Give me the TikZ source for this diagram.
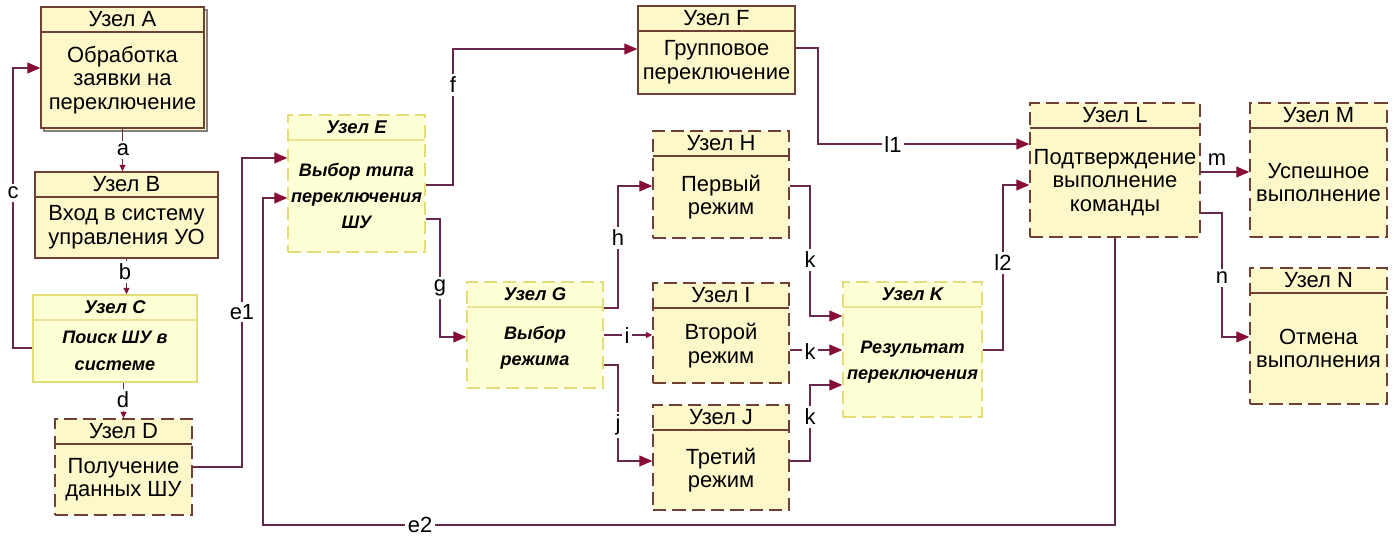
\documentclass[tikz,border=0pt]{standalone}
\usepackage{fontspec}
\setmainfont{Liberation Sans}
\usepackage{tikz}
\usetikzlibrary{arrows.meta,shadows}

\definecolor{brd}{RGB}{112,64,52}
\definecolor{cream}{RGB}{253,248,202}
\definecolor{ybrd}{RGB}{228,220,120}
\definecolor{yfill}{RGB}{255,255,214}
\definecolor{wire}{RGB}{105,40,75}
\definecolor{tipc}{RGB}{135,15,55}

\begin{document}
\begin{tikzpicture}[
      x=0.02cm, y=-0.02cm,
      font=\fontsize{12.5}{13.5}\selectfont,
      sbox/.style={draw=brd, fill=cream, line width=0.8pt, inner sep=0pt,
                   path picture={\draw[solid, brd, line width=0.8pt]
                     ([yshift=-0.5cm]path picture bounding box.north west) --
                     ([yshift=-0.5cm]path picture bounding box.north east);}},
      dbox/.style={sbox, dash pattern=on 7.5pt off 3.5pt},
      ybox/.style={draw=ybrd, fill=yfill, line width=0.8pt, inner sep=0pt,
                   dash pattern=on 7.5pt off 3.5pt,
                   path picture={\draw[solid, ybrd!80, line width=0.6pt]
                     ([yshift=-0.5cm]path picture bounding box.north west) --
                     ([yshift=-0.5cm]path picture bounding box.north east);}},
      hdr/.style={inner sep=0pt},
      yhdr/.style={inner sep=0pt, font=\fontsize{10.5}{13}\selectfont\bfseries\itshape},
      txt/.style={align=center, inner sep=0pt},
      ytxt/.style={align=center, inner sep=0pt,
                   font=\fontsize{10.3}{15}\selectfont\bfseries\itshape},
      flow/.style={draw=wire, line width=0.6pt,
                   -{Triangle[length=2.6mm, width=2.2mm, color=tipc]}},
      flowsm/.style={draw=wire, line width=0.6pt,
                   -{Triangle[length=1.3mm, width=1.2mm, color=tipc]}},
      lbl/.style={fill=white, inner sep=1.5pt}
    ]
    \useasboundingbox (0,0) rectangle (1394,537);

    % --- Nodes ---------------------------------------------------------------
    \node[sbox, minimum width=3.26cm, minimum height=2.42cm,
          copy shadow={shadow xshift=0.06cm, shadow yshift=-0.06cm,
                       draw=gray, fill=cream}] (A) at (122.5,67.5) {};
    \node[hdr] (Ah) at ([yshift=-0.25cm]A.north) {Узел A};
    \node[txt] (At) at ([yshift=-0.25cm]A.center) {Обработка\\заявки на\\переключение};

    \node[sbox, minimum width=3.66cm, minimum height=1.72cm] (B) at (126.5,215) {};
    \node[hdr] (Bh) at ([yshift=-0.25cm]B.north) {Узел B};
    \node[txt] (Bt) at ([yshift=-0.25cm]B.center) {Вход в систему\\управления УО};

    \node[ybox, solid, minimum width=3.28cm, minimum height=1.74cm] (C) at (115,338.5) {};
    \node[yhdr] (Ch) at ([yshift=-0.25cm]C.north) {Узел C};
    \node[ytxt] (Ct) at ([yshift=-0.25cm]C.center) {Поиск ШУ в\\системе};

    \node[dbox, minimum width=2.74cm, minimum height=1.92cm] (D) at (123.5,467) {};
    \node[hdr] (Dh) at ([yshift=-0.25cm]D.north) {Узел D};
    \node[txt] (Dt) at ([yshift=-0.25cm]D.center) {Получение\\данных ШУ};

    \node[ybox, minimum width=2.74cm, minimum height=2.74cm] (E) at (356.5,183.5) {};
    \node[yhdr] (Eh) at ([yshift=-0.25cm]E.north) {Узел E};
    \node[ytxt] (Et) at ([yshift=-0.25cm]E.center) {Выбор типа\\переключения\\ШУ};

    \node[sbox, minimum width=3.14cm, minimum height=1.76cm] (F) at (716.5,50) {};
    \node[hdr] (Fh) at ([yshift=-0.25cm]F.north) {Узел F};
    \node[txt] (Ft) at ([yshift=-0.25cm]F.center) {Групповое\\переключение};

    \node[ybox, minimum width=2.72cm, minimum height=2.12cm] (G) at (535,335) {};
    \node[yhdr] (Gh) at ([yshift=-0.25cm]G.north) {Узел G};
    \node[ytxt] (Gt) at ([yshift=-0.25cm]G.center) {Выбор\\режима};

    \node[dbox, minimum width=2.72cm, minimum height=2.14cm] (H) at (721,184.5) {};
    \node[hdr] (Hh) at ([yshift=-0.25cm]H.north) {Узел H};
    \node[txt] (Ht) at ([yshift=-0.25cm]H.center) {Первый\\режим};

    \node[dbox, minimum width=2.72cm, minimum height=2.0cm] (I) at (721,333) {};
    \node[hdr] (Ih) at ([yshift=-0.25cm]I.north) {Узел I};
    \node[txt] (It) at ([yshift=-0.25cm]I.center) {Второй\\режим};

    \node[dbox, minimum width=2.72cm, minimum height=2.1cm] (J) at (721,457.5) {};
    \node[hdr] (Jh) at ([yshift=-0.25cm]J.north) {Узел J};
    \node[txt] (Jt) at ([yshift=-0.25cm]J.center) {Третий\\режим};

    \node[ybox, minimum width=2.78cm, minimum height=2.7cm] (K) at (912.5,349.5) {};
    \node[yhdr] (Kh) at ([yshift=-0.25cm]K.north) {Узел K};
    \node[ytxt] (Kt) at ([yshift=-0.25cm]K.center) {Результат\\переключения};

    \node[dbox, minimum width=3.4cm, minimum height=2.68cm] (L) at (1115,170) {};
    \node[hdr] (Lh) at ([yshift=-0.25cm]L.north) {Узел L};
    \node[txt] (Lt) at ([yshift=-0.25cm]L.center) {Подтверждение\\выполнение\\команды};

    \node[dbox, minimum width=2.74cm, minimum height=2.68cm] (M) at (1318.5,170) {};
    \node[hdr] (Mh) at ([yshift=-0.25cm]M.north) {Узел M};
    \node[txt] (Mt) at ([yshift=-0.25cm]M.center) {Успешное\\выполнение};

    \node[dbox, minimum width=2.74cm, minimum height=2.72cm] (N) at (1318.5,336) {};
    \node[hdr] (Nh) at ([yshift=-0.25cm]N.north) {Узел N};
    \node[txt] (Nt) at ([yshift=-0.25cm]N.center) {Отмена\\выполнения};

    % --- Connectors ----------------------------------------------------------
    \draw[flowsm] (A.south) -- (A.south |- B.north);
    \draw[flowsm] (B.south) -- (B.south |- C.north);
    \draw[flow] (C.west |- 0,348) -- (13,348) |- (A.west |- 0,68);
    \draw[flowsm] (D.north |- C.south) -- (D.north);
    \draw[flow] (D.east) -- (242,467) |- (E.west |- 0,158);
    \draw[flow] (L.south) -- (1115,525) -- (263,525) |- (E.west |- 0,198);
    \draw[flow] (E.east |- 0,185) -- (453,185) |- (F.west |- 0,49);
    \draw[flow] (E.east |- 0,219) -- (440,219) |- (G.west |- 0,337);
    \draw[flow] (G.east |- 0,308) -- (618,308) |- (H.west |- 0,186);
    \draw[flowsm] (G.east |- 0,335) -- (I.west |- 0,335);
    \draw[flow] (G.east |- 0,365) -- (618,365) |- (J.west |- 0,461);
    \draw[flow] (H.east |- 0,186) -- (810,186) |- (K.west |- 0,316);
    \draw[flow] (I.east |- 0,350) -- (K.west |- 0,350);
    \draw[flow] (J.east |- 0,461) -- (810,461) |- (K.west |- 0,385);
    \draw[flow] (F.east |- 0,48) -- (818,48) |- (L.west |- 0,144);
    \draw[flow] (K.east |- 0,350) -- (1003,350) |- (L.west |- 0,185);
    \draw[flow] (L.east |- 0,172) -- (M.west |- 0,172);
    \draw[flow] (L.east |- 0,213) -- (1222,213) |- (N.west |- 0,337);

    % labels on the connectors
    \node[lbl] (la) at (123,150) {a};
    \node[lbl] (lb) at (125,272) {b};
    \node[lbl] (lc) at (13,193) {c};
    \node[lbl] (ld) at (123,400) {d};
    \node[lbl] (le1) at (242,312) {e1};
    \node[lbl] (le2) at (420,525) {e2};
    \node[lbl] (lf) at (453,85) {f};
    \node[lbl] (lg) at (440,288) {g};
    \node[lbl] (lh) at (618,238) {h};
    \node[lbl] (li) at (627,336) {i};
    \node[lbl] (lj) at (618,425) {j};
    \node[lbl] (lk1) at (810,260) {k};
    \node[lbl] (lk2) at (810,352) {k};
    \node[lbl] (lk3) at (810,417) {k};
    \node[lbl] (ll1) at (893,145) {l1};
    \node[lbl] (ll2) at (1003,263) {l2};
    \node[inner sep=1pt] (lm) at (1217,160) {m};
    \node[lbl] (ln) at (1222,278) {n};
  \end{tikzpicture}
\end{document}
